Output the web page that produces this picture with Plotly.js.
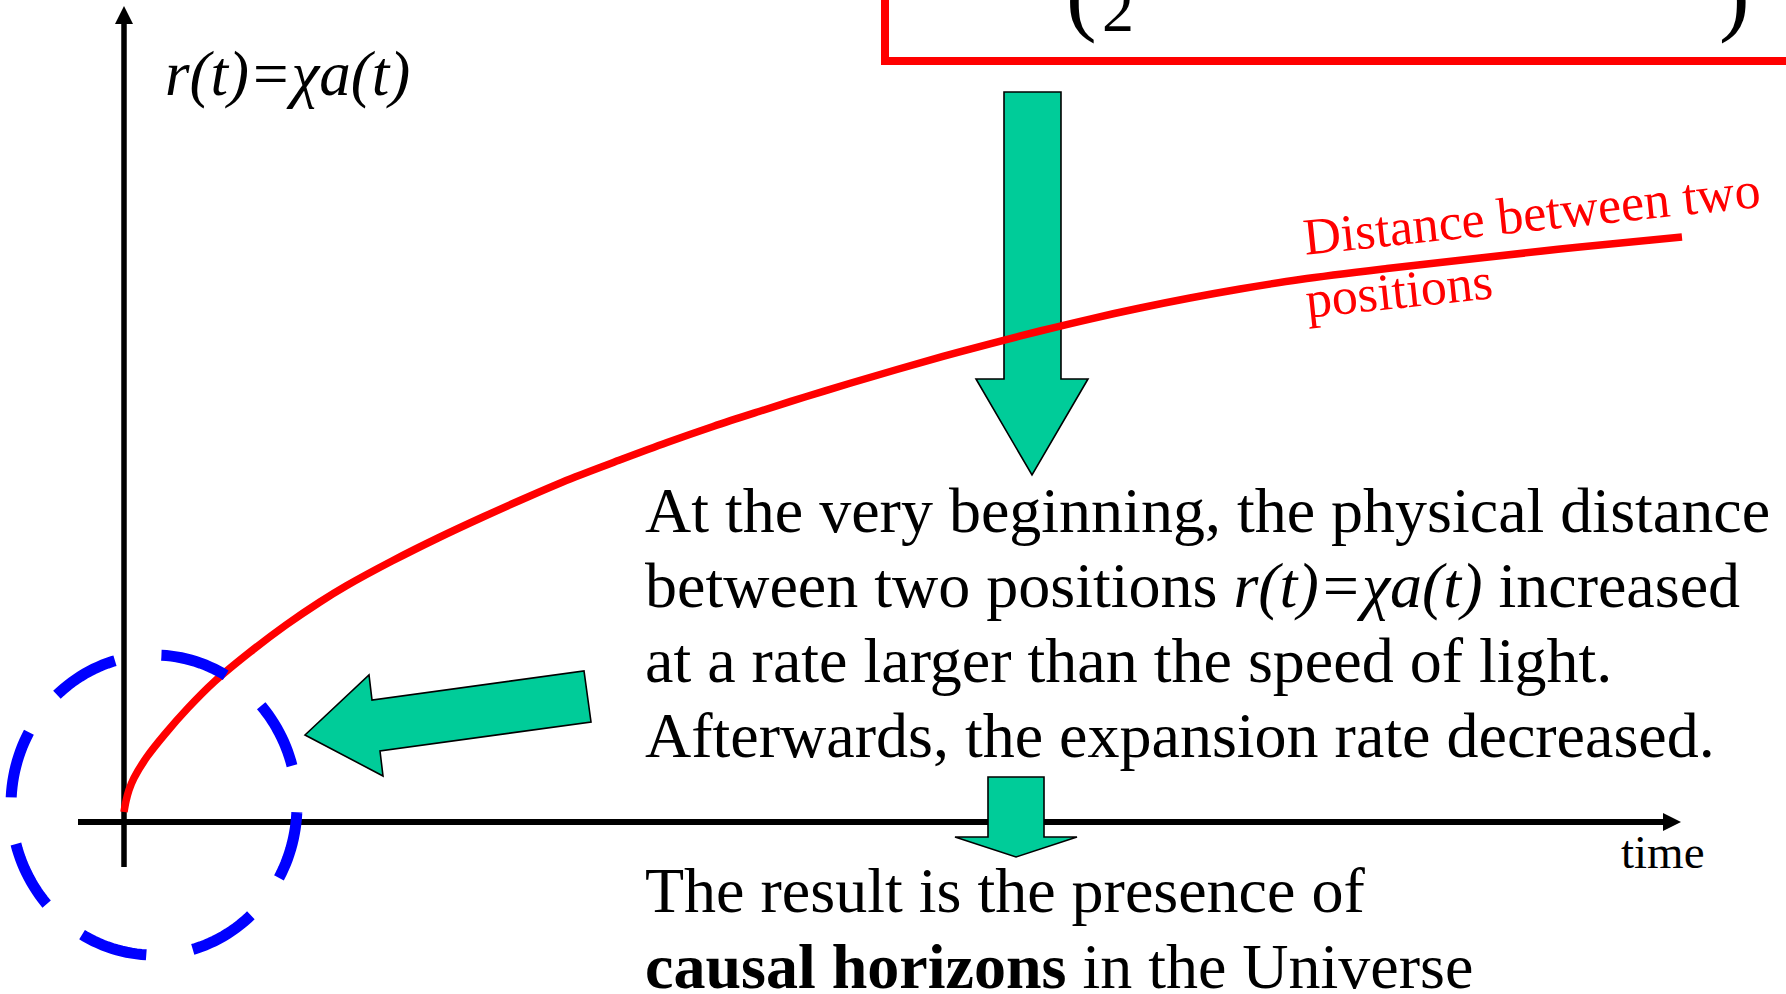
<!DOCTYPE html>
<html>
<head>
<meta charset="utf-8">
<script src="https://cdn.plot.ly/plotly-3.0.1.min.js"></script>
<style>
  html, body { margin: 0; padding: 0; background: #ffffff; }
  #chart { width: 1786px; height: 994px; }
</style>
</head>
<body>
<div id="chart"></div>
<script>
// Scale factor a(t) times comoving separation: physical distance between two positions over time
const timeVals = [0, 0.013, 0.032, 0.064, 0.147, 0.263, 0.41, 0.577, 0.808, 1.038, 1.256, 1.423,
  1.718, 2.013, 2.308, 2.603, 2.891, 3.186, 3.481, 3.776, 4.071, 4.365, 4.66, 4.955, 5.25, 5.545,
  5.872, 6.192, 6.513, 6.833, 7.154, 7.538, 8.096, 8.692, 9.333, 9.987];
const distVals = [0.123, 0.258, 0.393, 0.541, 0.799, 1.081, 1.40, 1.72, 2.088, 2.42, 2.703, 2.899,
  3.206, 3.489, 3.753, 4.005, 4.238, 4.453, 4.662, 4.859, 5.043, 5.221, 5.393, 5.559, 5.719, 5.872,
  6.032, 6.179, 6.314, 6.437, 6.548, 6.665, 6.80, 6.929, 7.064, 7.187];

const axisLabelY = 'r(t)=χa(t)';
const axisLabelX = 'time';
const curveLabel = ['Distance between two', 'positions'];
const paragraph = [
  'At the very beginning, the physical distance',
  'between two positions <i>r(t)=χa(t)</i> increased',
  'at a rate larger than the speed of light.',
  'Afterwards, the expansion rate decreased.'
];
const conclusion = [
  'The result is the presence of',
  '<b>causal horizons</b> in the Universe'
];

// Canvas and axis frame
const W = 1786, H = 994;
const ORIGIN_X = 124, ORIGIN_Y = 822;   // where t = 0 and r = 0 sit on the canvas
const PX_PER_T = 156, PX_PER_R = 81.4;

const SERIF = '"Liberation Serif", "Times New Roman", Times, serif';
const GREEN = '#00CC99';

// canvas pixel -> paper fraction
const fx = x => x / W;
const fy = y => 1 - y / H;

function polyPath(pts, close) {
  return 'M' + pts.map(p => fx(p[0]).toFixed(5) + ',' + fy(p[1]).toFixed(5)).join('L') + (close ? 'Z' : '');
}

function polygon(pts, fill, layer) {
  return {
    type: 'path', xref: 'paper', yref: 'paper', layer: layer || 'below',
    path: polyPath(pts, true), fillcolor: fill, line: { color: '#000000', width: fill === '#000000' ? 0 : 1.6 }
  };
}

function segment(x0, y0, x1, y1, color, width, layer) {
  return {
    type: 'line', xref: 'paper', yref: 'paper', layer: layer || 'below',
    x0: fx(x0), y0: fy(y0), x1: fx(x1), y1: fy(y1), line: { color: color, width: width }
  };
}

// Text placed by its left edge (or right edge) and baseline
function label(text, x, baseline, size, opts) {
  opts = opts || {};
  const anchor = opts.anchor || 'left';
  return {
    xref: 'paper', yref: 'paper', showarrow: false,
    x: fx(anchor === 'left' ? x - 2 : x + 2),
    y: fy(baseline + 0.216 * size + 2),
    xanchor: anchor, yanchor: 'bottom',
    text: text,
    font: { family: SERIF, size: size, color: opts.color || '#000000' }
  };
}

function rotatedLabel(text, cx, cy, size, angle, color) {
  return {
    xref: 'paper', yref: 'paper', showarrow: false,
    x: fx(cx), y: fy(cy), xanchor: 'center', yanchor: 'middle',
    text: text, textangle: angle,
    font: { family: SERIF, size: size, color: color }
  };
}

// Dashed ellipse around the origin
function ellipsePoints(cx, cy, rx, ry, startDeg, n) {
  const pts = [];
  for (let i = 0; i <= n; i++) {
    const a = (startDeg + 360 * i / n) * Math.PI / 180;
    pts.push([cx + rx * Math.cos(a), cy + ry * Math.sin(a)]);
  }
  return pts;
}

const shapes = [
  // vertical axis with arrowhead
  segment(ORIGIN_X, 867, ORIGIN_X, 22, '#000000', 5.5),
  polygon([[115, 24], [133, 24], [124, 6]], '#000000'),
  // horizontal axis with arrowhead
  segment(78, ORIGIN_Y, 1665, ORIGIN_Y, '#000000', 6),
  polygon([[1663, 813], [1663, 831], [1681, 822]], '#000000'),
  // large downward arrow
  polygon([[1004, 92], [1061, 92], [1061, 379], [1088, 379], [1032, 475],
           [976, 379], [1004, 379]], GREEN),
  // arrow pointing at the origin
  polygon([[305, 735], [369, 675], [372, 700], [584, 671], [591, 722],
           [380, 751], [383, 776]], GREEN),
  // small downward arrow over the time axis
  polygon([[988, 777], [1044, 777], [1044, 837], [1077, 837], [1016, 857],
           [955, 837], [988, 837]], GREEN),
  // framed equation box
  {
    type: 'rect', xref: 'paper', yref: 'paper', layer: 'above',
    x0: fx(885), x1: fx(1830), y0: fy(-40), y1: fy(61),
    line: { color: '#FF0000', width: 8 }, fillcolor: 'rgba(0,0,0,0)'
  },
  // dashed ring marking the earliest epoch
  {
    type: 'path', xref: 'paper', yref: 'paper', layer: 'above',
    path: polyPath(ellipsePoints(154, 805, 143, 150, 3, 180), false),
    line: { color: '#0000FF', width: 11, dash: '68px,47px' }
  }
];

const annotations = [
  label('<i>' + axisLabelY + '</i>', 165, 95, 63),
  label(axisLabelX, 1621, 868, 47),
  rotatedLabel(curveLabel[0], 1531, 213, 52, -6, '#FF0000'),
  rotatedLabel(curveLabel[1], 1399, 290, 52, -6, '#FF0000'),
  // equation fragments inside the box
  label('(', 1066, 24, 92),
  label('2', 1102, 31, 64),
  label(')', 1750, 24, 92, { anchor: 'right' })
];
const paraBaselines = [532, 607, 682, 757];
paragraph.forEach((t, i) => annotations.push(label(t, 645, paraBaselines[i], 64)));
const conclBaselines = [912, 988];
conclusion.forEach((t, i) => annotations.push(label(t, 645, conclBaselines[i], 64)));

const trace = {
  type: 'scatter', mode: 'lines',
  x: timeVals, y: distVals,
  line: { color: '#FF0000', width: 7.5, shape: 'spline', smoothing: 1 },
  hoverinfo: 'skip', showlegend: false
};

const layout = {
  width: W, height: H,
  margin: { l: 0, r: 0, t: 0, b: 0, pad: 0 },
  paper_bgcolor: '#ffffff', plot_bgcolor: 'rgba(0,0,0,0)',
  showlegend: false,
  xaxis: {
    visible: false, fixedrange: true,
    range: [-ORIGIN_X / PX_PER_T, (W - ORIGIN_X) / PX_PER_T]
  },
  yaxis: {
    visible: false, fixedrange: true,
    range: [-(H - ORIGIN_Y) / PX_PER_R, ORIGIN_Y / PX_PER_R]
  },
  shapes: shapes,
  annotations: annotations
};

Plotly.newPlot('chart', [trace], layout, { displayModeBar: false, staticPlot: true });
</script>
</body>
</html>
